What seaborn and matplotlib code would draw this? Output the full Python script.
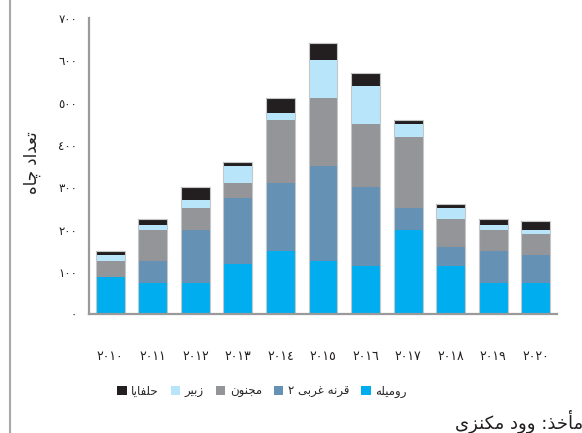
import re
import matplotlib
matplotlib.use("Agg")
import matplotlib.pyplot as plt
from matplotlib.patches import Patch
from matplotlib.lines import Line2D
import seaborn as sns

# ---------------- data ----------------
years = ["٢٠١٠", "٢٠١١", "٢٠١٢", "٢٠١٣", "٢٠١٤", "٢٠١٥", "٢٠١٦", "٢٠١٧", "٢٠١٨", "٢٠١٩", "٢٠٢٠"]
series_names = ["رومیله", "قرنه غربی ٢", "مجنون", "زبیر", "حلفایا"]
rumaila = [88, 75, 75, 120, 150, 125, 115, 200, 115, 75, 75]
west_qurna2 = [0, 50, 125, 155, 160, 225, 185, 50, 45, 75, 65]
majnoon = [37, 75, 50, 35, 150, 160, 150, 170, 65, 50, 50]
zubair = [14, 10, 20, 40, 15, 90, 90, 30, 25, 10, 10]
halfaya = [11, 15, 30, 10, 35, 40, 30, 10, 10, 15, 20]
y_ticks = [0, 100, 200, 300, 400, 500, 600, 700]
y_tick_labels = ["٠", "١٠٠", "٢٠٠", "٣٠٠", "٤٠٠", "٥٠٠", "٦٠٠", "٧٠٠"]
y_label = "تعداد چاه"
source_text = "مأخذ: وود مکنزی"

colors = ["#00AEEF", "#6592B4", "#939598", "#B9E5FA", "#231F20"]

# ------------- Arabic shaping (presentation forms + RTL order) -------------
FORMS = {
    "\u0627": ("\uFE8D", "\uFE8E", None, None),
    "\u0623": ("\uFE83", "\uFE84", None, None),
    "\u0628": ("\uFE8F", "\uFE90", "\uFE91", "\uFE92"),
    "\u062A": ("\uFE95", "\uFE96", "\uFE97", "\uFE98"),
    "\u062C": ("\uFE9D", "\uFE9E", "\uFE9F", "\uFEA0"),
    "\u062D": ("\uFEA1", "\uFEA2", "\uFEA3", "\uFEA4"),
    "\u062E": ("\uFEA5", "\uFEA6", "\uFEA7", "\uFEA8"),
    "\u062F": ("\uFEA9", "\uFEAA", None, None),
    "\u0630": ("\uFEAB", "\uFEAC", None, None),
    "\u0631": ("\uFEAD", "\uFEAE", None, None),
    "\u0632": ("\uFEAF", "\uFEB0", None, None),
    "\u0639": ("\uFEC9", "\uFECA", "\uFECB", "\uFECC"),
    "\u063A": ("\uFECD", "\uFECE", "\uFECF", "\uFED0"),
    "\u0641": ("\uFED1", "\uFED2", "\uFED3", "\uFED4"),
    "\u0642": ("\uFED5", "\uFED6", "\uFED7", "\uFED8"),
    "\u0644": ("\uFEDD", "\uFEDE", "\uFEDF", "\uFEE0"),
    "\u0645": ("\uFEE1", "\uFEE2", "\uFEE3", "\uFEE4"),
    "\u0646": ("\uFEE5", "\uFEE6", "\uFEE7", "\uFEE8"),
    "\u0647": ("\uFEE9", "\uFEEA", "\uFEEB", "\uFEEC"),
    "\u0648": ("\uFEED", "\uFEEE", None, None),
    "\u0686": ("\uFB7A", "\uFB7B", "\uFB7C", "\uFB7D"),
    "\u06A9": ("\uFB8E", "\uFB8F", "\uFB90", "\uFB91"),
    "\u06CC": ("\uFBFC", "\uFBFD", "\uFBFE", "\uFBFF"),
}


def _shape(s):
    out = []
    for i, c in enumerate(s):
        if c not in FORMS:
            out.append(c)
            continue
        prev = s[i - 1] if i > 0 else None
        nxt = s[i + 1] if i + 1 < len(s) else None
        jp = prev in FORMS and FORMS[prev][2] is not None
        jn = FORMS[c][2] is not None and nxt in FORMS
        iso, fin, ini, med = FORMS[c]
        if jp and jn:
            out.append(med)
        elif jp:
            out.append(fin)
        elif jn:
            out.append(ini)
        else:
            out.append(iso)
    return "".join(out)


def rtl(s):
    sh = _shape(s)
    runs = re.findall(r"[0-9\u0660-\u0669\u06F0-\u06F9]+|[^0-9\u0660-\u0669\u06F0-\u06F9]+", sh)
    return "".join(r if r[0].isdigit() else r[::-1] for r in reversed(runs))


# ---------------- plot ----------------
sns.set_style("white")
plt.rcParams["font.family"] = ["DejaVu Sans"]

fig = plt.figure(figsize=(5.82, 4.33), dpi=100)
ax = fig.add_axes([89 / 582, (433 - 314.3) / 433, (557 - 89) / 582, (314.3 - 18) / 433])

layers = [rumaila, west_qurna2, majnoon, zubair, halfaya]
cums = []
running = [0] * len(years)
for layer in layers:
    running = [a + b for a, b in zip(running, layer)]
    cums.append(list(running))

# draw from the tallest cumulative down so that the stack is visible
for cum, col in reversed(list(zip(cums, colors))):
    sns.barplot(x=years, y=cum, order=years, color=col, saturation=1,
                width=0.68, edgecolor="none", linewidth=0, ax=ax)
# thin light outline round each whole bar
sns.barplot(x=years, y=cums[-1], order=years, fill=False, width=0.68,
            edgecolor="#c4c6c8", linewidth=0.8, ax=ax)

ax.set_xlim(-0.5, len(years) - 0.5)
ax.set_ylim(0, 700)
ax.set_yticks(y_ticks)
ax.set_yticklabels(y_tick_labels, fontsize=8.5)
ax.set_xticks(range(len(years)))
ax.set_xticklabels(years, fontsize=9)
ax.set_xticks([i - 0.5 for i in range(len(years) + 1)], minor=True)
ax.tick_params(axis="x", which="major", length=0, pad=26, colors="#231F20")
ax.tick_params(axis="x", which="minor", length=4, width=1.2, color="#9a9a9a", direction="out")
ax.tick_params(axis="y", which="major", length=3.5, width=1.2, color="#9a9a9a",
               direction="out", pad=5, labelcolor="#231F20")
ax.set_xlabel("")
ax.set_ylabel("")
for side in ["top", "right"]:
    ax.spines[side].set_visible(False)
for side in ["left", "bottom"]:
    ax.spines[side].set_color("#9a9a9a")
    ax.spines[side].set_linewidth(1.6)

# y-axis title
fig.text(32 / 582, (433 - 163) / 433, rtl(y_label), rotation=90,
         ha="center", va="center", fontsize=12, color="#231F20")

# legend (left-to-right order as in the reference)
handles = [Patch(facecolor=colors[i], edgecolor="none") for i in [4, 3, 2, 1, 0]]
labels = [rtl(series_names[i]) for i in [4, 3, 2, 1, 0]]
fig.legend(handles, labels, loc="center", bbox_to_anchor=(262 / 582, (433 - 391) / 433),
           ncol=5, frameon=False, fontsize=8.5, handlelength=0.8, handleheight=0.8,
           handletextpad=0.4, columnspacing=1.0)

# source line, clipped by the right edge like in the reference
fig.text(455 / 582, (433 - 421) / 433, rtl(source_text), ha="left", va="center",
         fontsize=13, color="#231F20")

# page border line on the left
fig.add_artist(Line2D([10 / 582, 10 / 582], [0, 1], transform=fig.transFigure,
                      color="#a8a8a8", linewidth=1.5))

fig.savefig("out.png", dpi=100)
